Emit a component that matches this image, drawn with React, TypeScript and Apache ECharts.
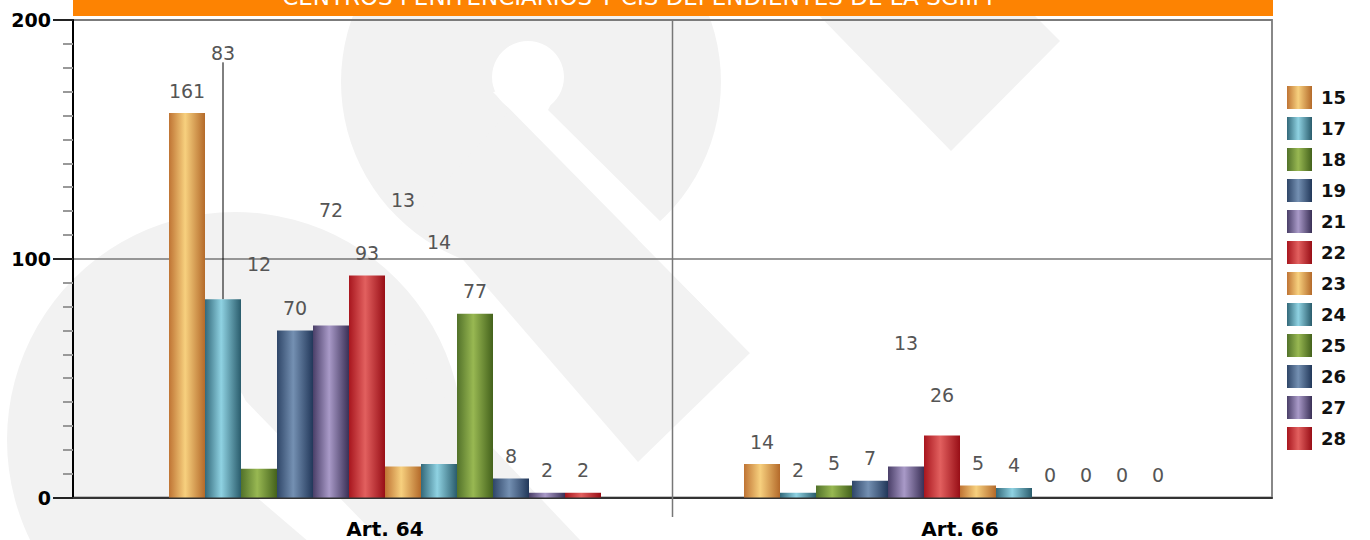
import React, { useEffect, useRef } from "react";
import * as echarts from "echarts";

// ---------- data ----------
const categories = ["Art. 64", "Art. 66"];
const seriesNames = ["15", "17", "18", "19", "21", "22", "23", "24", "25", "26", "27", "28"];
const art64Values = [161, 83, 12, 70, 72, 93, 13, 14, 77, 8, 2, 2];
const art66Values = [14, 2, 5, 7, 13, 26, 5, 4, 0, 0, 0, 0];
const yMin = 0;
const yMax = 200;
const yInterval = 100;
const titleText = "CENTROS PENITENCIARIOS Y CIS DEPENDIENTES DE LA SGIIPP";

// label displacement (px) used by the original to avoid label collisions
const art64LabelShift = [0, -224, -182, 0, -93, 0, -244, -200, 0, 0, 0, 0];
const art66LabelShift = [0, 0, 0, 0, -101, -18, 0, 0, 0, 0, 0, 0];

// ---------- styles ----------
const palette = [
  ["#bf7434", "#f7d07e", "#b46a2a"],
  ["#33697a", "#8fd2e2", "#2a5c6c"],
  ["#52722a", "#98b852", "#44621c"],
  ["#2f4668", "#7490b2", "#22385a"],
  ["#4a3f68", "#a99ac8", "#3a3056"],
  ["#a8161e", "#e2605f", "#980e16"],
];
const grad = (c: string[]) =>
  new echarts.graphic.LinearGradient(0, 0, 1, 0, [
    { offset: 0, color: c[0] },
    { offset: 0.45, color: c[1] },
    { offset: 1, color: c[2] },
  ]);

const W = 1370;
const plotLeft = 73;
const plotRight = 1272;
const plotTop = 20;
const plotBottom = 497.5;
const barAreaLeft = 97.5;
const barAreaRight = 1247.5;
const WM = "#f2f2f2";

export default function App() {
  const ref = useRef<HTMLDivElement>(null);
  useEffect(() => {
    document.body.style.margin = "0";
    const chart = echarts.init(ref.current!, null, { renderer: "svg" });
    const divX = (barAreaLeft + barAreaRight) / 2;

    const watermark: any[] = [
      { type: "circle", shape: { cx: 531, cy: 82, r: 190 } },
      { type: "polygon", shape: { points: [[420, 210], [510, 110], [750, 353], [638, 462]] } },
      { type: "circle", shape: { cx: 235, cy: 440, r: 228 } },
      { type: "polygon", shape: { points: [[384, 333], [580, 540], [380, 540], [330, 400]] } },
      { type: "polygon", shape: { points: [[804, 0], [1019, 0], [1060, 41], [951, 151]] } },
    ].map((e) => ({ ...e, style: { fill: WM }, z: -10, silent: true }));
    const cutouts: any[] = [
      { type: "circle", shape: { cx: 528, cy: 77, r: 36 } },
      { type: "polygon", shape: { points: [[493, 92], [563, 80], [548, 110], [790, 350], [750, 353]] } },
      { type: "circle", shape: { cx: 210, cy: 414, r: 38 } },
      { type: "polygon", shape: { points: [[178, 430], [240, 395], [400, 560], [330, 560]] } },
    ].map((e) => ({ ...e, style: { fill: "#ffffff" }, z: -9, silent: true }));

    const series = seriesNames.map((name, i) => ({
      name,
      type: "bar",
      xAxisIndex: 1,
      yAxisIndex: 1,
      barWidth: 36,
      barGap: "0%",
      itemStyle: { color: grad(palette[i % 6]) },
      label: {
        show: true,
        position: "top",
        distance: 13,
        color: "#555",
        fontSize: 19,
        fontFamily: "DejaVu Sans",
      },
      labelLine: { show: false, lineStyle: { color: "#000", width: 1 } },
      labelLayout: (p: any) => ({
        dy: (p.dataIndex === 0 ? art64LabelShift : art66LabelShift)[i],
      }),
      data: [
        { value: art64Values[i], labelLine: { show: art64LabelShift[i] < -220 && i === 1 } },
        { value: art66Values[i] },
      ],
    }));

    chart.setOption({
      animation: false,
      legend: {
        orient: "vertical",
        left: 1282,
        top: 81,
        itemWidth: 25,
        itemHeight: 23,
        itemGap: 8,
        icon: "rect",
        data: seriesNames,
        textStyle: {
          color: "#111",
          fontWeight: "bold",
          fontSize: 18,
          fontFamily: "DejaVu Sans",
          padding: [0, 0, 0, 4],
        },
      },
      grid: [
        {
          left: plotLeft,
          top: plotTop,
          width: plotRight - plotLeft,
          height: plotBottom - plotTop,
          show: true,
          borderColor: "#888",
          borderWidth: 2,
          backgroundColor: "transparent",
        },
        {
          left: barAreaLeft,
          top: plotTop,
          width: barAreaRight - barAreaLeft,
          height: plotBottom - plotTop,
        },
      ],
      xAxis: [
        {
          gridIndex: 0,
          type: "value",
          min: 0,
          max: 1,
          axisLine: { show: true, onZero: false, lineStyle: { color: "#333", width: 2 } },
          axisTick: { show: false },
          axisLabel: { show: false },
          splitLine: { show: false },
        },
        {
          gridIndex: 1,
          type: "category",
          data: categories,
          axisLine: { show: false },
          axisTick: { show: false },
          axisLabel: {
            color: "#000",
            fontWeight: "bold",
            fontSize: 20,
            fontFamily: "DejaVu Sans",
            margin: 21,
          },
          splitLine: { show: false },
        },
      ],
      yAxis: [
        {
          gridIndex: 0,
          type: "value",
          min: yMin,
          max: yMax,
          interval: yInterval,
          axisLine: { show: true, lineStyle: { color: "#000", width: 2 } },
          axisTick: { show: true, length: 20, lineStyle: { color: "#222", width: 2 } },
          minorTick: { show: true, splitNumber: 10, length: 10, lineStyle: { color: "#999", width: 2 } },
          axisLabel: {
            color: "#000",
            fontWeight: "bold",
            fontSize: 19,
            fontFamily: "DejaVu Sans",
            margin: 22,
          },
          splitLine: { show: true, lineStyle: { color: "#777", width: 1.5 } },
        },
        { gridIndex: 1, type: "value", min: yMin, max: yMax, show: false },
      ],
      graphic: [
        ...watermark,
        ...cutouts,
        {
          type: "line",
          shape: { x1: divX, y1: plotTop, x2: divX, y2: 517 },
          style: { stroke: "#777", lineWidth: 1.5 },
          z: 1,
          silent: true,
        },
        {
          type: "rect",
          shape: { x: plotLeft, y: 0, width: plotRight - plotLeft + 1, height: 16 },
          style: { fill: "#fd8302" },
          z: 10,
        },
        {
          type: "text",
          x: 641,
          y: -3,
          style: {
            text: titleText,
            fill: "#ffffff",
            fontSize: 23,
            fontFamily: "DejaVu Sans",
            align: "center",
            verticalAlign: "middle",
          },
          z: 11,
        },
      ],
      series,
    });
    return () => chart.dispose();
  }, []);
  return <div ref={ref} style={{ width: W, height: 540 }} />;
}
